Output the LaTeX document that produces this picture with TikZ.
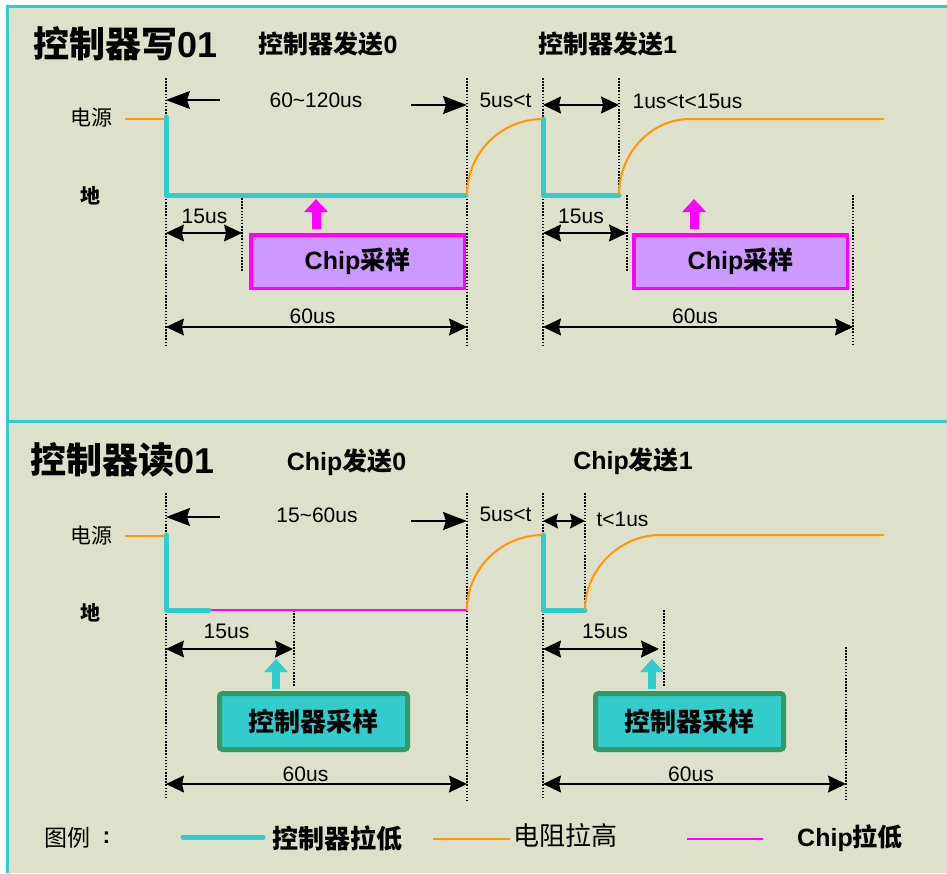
\documentclass[tikz,border=0pt]{standalone}
\usepackage{fontspec}
\setmainfont{Liberation Sans}
\newfontfamily\cjk{Noto Sans CJK SC}
\usetikzlibrary{arrows.meta}
\definecolor{bgc}{HTML}{DDE0CB}
\definecolor{sigcyan}{HTML}{33CCCC}
\definecolor{pullorange}{HTML}{FF9900}
\definecolor{chipmag}{HTML}{FF00FF}
\definecolor{chipfill}{HTML}{CC99FF}
\definecolor{boxgreen}{HTML}{339966}
\tikzset{
  sig/.style={line width=5pt, draw=sigcyan, line cap=round, line join=round},
  pull/.style={line width=2pt, draw=pullorange},
  chipl/.style={line width=2pt, draw=chipmag},
  guide/.style={line width=1.5pt, dash pattern=on 1.5pt off 1.6pt},
  dimboth/.style={line width=1.6pt, {Stealth[length=18pt,width=17pt,inset=2pt]}-{Stealth[length=18pt,width=17pt,inset=2pt]}},
  dimbig/.style={line width=1.6pt, -{Stealth[length=24pt,width=18pt,inset=3pt]}},
  dimsmall/.style={line width=1.6pt, {Stealth[length=15pt,width=15pt,inset=2pt]}-{Stealth[length=15pt,width=15pt,inset=2pt]}},
  lat/.style={anchor=base, inner sep=0pt, font=\fontsize{21}{24}\selectfont},
  cjkreg/.style={inner sep=0pt, font=\cjk\fontsize{21}{24}\selectfont},
  cjkbold/.style={inner sep=0pt, font=\cjk\bfseries\fontsize{20}{24}\selectfont},
  title/.style={anchor=base west, inner sep=0pt, font=\bfseries\fontsize{36}{40}\selectfont},
  subtitle/.style={anchor=base, inner sep=0pt, font=\bfseries\fontsize{25}{28}\selectfont},
  chipbox/.style={draw=chipmag, fill=chipfill, line width=3.5pt, minimum width=213.5pt, minimum height=53.5pt, inner sep=0pt, font=\bfseries\fontsize{25}{28}\selectfont},
  ctrlbox/.style={draw=boxgreen, fill=sigcyan, line width=5pt, rounded corners=3pt, minimum width=188pt, minimum height=56pt, inner sep=0pt, font=\cjk\bfseries\fontsize{26}{28}\selectfont},
  magup/.style={line width=9pt, draw=chipmag, -{Triangle[length=13pt,width=23pt]}},
  cyanup/.style={line width=8pt, draw=sigcyan, -{Triangle[length=13pt,width=23pt]}},
}
\begin{document}
\begin{tikzpicture}[x=1pt,y=-1pt]
\useasboundingbox (0,0) rectangle (947,873);
% panel background and frame
\fill[bgc] (6,5) rectangle (947,873);
\draw[sigcyan, line width=3pt] (6,6.5) -- (947,6.5);
\draw[sigcyan, line width=3pt] (7.5,5) -- (7.5,873);
\draw[sigcyan, line width=3pt] (6,421) -- (947,421);

% ================= TOP PANEL =================
\node[title] (t1) at (33,57) {{\cjk 控制器写}01};
\node[subtitle] (s10) at (328,53.5) {{\cjk 控制器发送}0};
\node[subtitle] (s11) at (607.5,53.5) {{\cjk 控制器发送}1};

% guide lines
\draw[guide] (166,78) -- (166,346);
\draw[guide] (467,78) -- (467,346);
\draw[guide] (242,195) -- (242,271);
\draw[guide] (543,78) -- (543,346);
\draw[guide] (619,78) -- (619,195);
\draw[guide] (627,195) -- (627,271);
\draw[guide] (853,195) -- (853,346);

% level labels
\node[cjkreg] (vcc1) at (91,118) {电源};
\node[cjkbold] (gnd1) at (90,196) {地};

% signals
\draw[pull] (125,119) -- (166,119);
\draw[sig] (166,117) -- (166,195) -- (466,195);
\draw[pull] (467,195) .. controls (467,153) and (501,119) .. (543,119);
\draw[sig] (543,119) -- (543,195) -- (619,195);
\draw[pull] (619,195) .. controls (619,153) and (651,119) .. (690,119) -- (884,119);

% dimensions
\coordinate (a1) at (220,100); \coordinate (a1e) at (166,100);
\coordinate (a2) at (411,105); \coordinate (a2e) at (467,105);
\draw[dimbig] (a1) -- (a1e);
\draw[dimbig] (a2) -- (a2e);
\node[lat] (d1) at (316,107) {60\textasciitilde120us};
\node[lat] (d2) at (505.5,107) {5us<t};
\coordinate (b1) at (543,105); \coordinate (b2) at (619,105);
\draw[dimboth] (b1) -- (b2);
\node[lat] (d3) at (687.5,108) {1us<t<15us};
\coordinate (c1) at (166,233); \coordinate (c2) at (242,233);
\draw[dimboth] (c1) -- (c2);
\node[lat] (d4) at (204.5,223) {15us};
\coordinate (c3) at (543,233); \coordinate (c4) at (627,233);
\draw[dimboth] (c3) -- (c4);
\node[lat] (d5) at (581,223) {15us};
\coordinate (e1) at (166,327); \coordinate (e2) at (467,327);
\draw[dimboth] (e1) -- (e2);
\node[lat] (d6) at (312.5,323) {60us};
\coordinate (e3) at (543,327); \coordinate (e4) at (853,327);
\draw[dimboth] (e3) -- (e4);
\node[lat] (d7) at (695,323) {60us};

% chip sample boxes
\node[chipbox] (cs1) at (357.5,261.5) {Chip{\cjk 采样}};
\node[chipbox] (cs2) at (740.5,261.5) {Chip{\cjk 采样}};
\draw[magup] (316,229) -- (316,199);
\draw[magup] (694,229) -- (694,199);

% ================= BOTTOM PANEL =================
\node[title] (t2) at (30,473) {{\cjk 控制器读}01};
\node[subtitle] (s20) at (346.5,470) {Chip{\cjk 发送}0};
\node[subtitle] (s21) at (633,469) {Chip{\cjk 发送}1};

% guide lines
\draw[guide] (166,493) -- (166,797);
\draw[guide] (467,493) -- (467,800);
\draw[guide] (294,610) -- (294,687);
\draw[guide] (543,493) -- (543,797);
\draw[guide] (585,493) -- (585,610);
\draw[guide] (664,610) -- (664,687);
\draw[guide] (846,647) -- (846,800);

% level labels
\node[cjkreg] (vcc2) at (91,536) {电源};
\node[cjkbold] (gnd2) at (90,613) {地};

% signals
\draw[pull] (125,536) -- (166,536);
\draw[chipl] (209,610) -- (467,610);
\draw[sig] (166,535) -- (166,610) -- (209,610);
\draw[pull] (467,610) .. controls (467,569) and (501,535) .. (543,535);
\draw[sig] (543,535) -- (543,610) -- (585,610);
\draw[pull] (585,610) .. controls (585,569) and (620,535) .. (660,535) -- (884,535);

% dimensions
\coordinate (f1) at (220,517); \coordinate (f1e) at (166,517);
\coordinate (f2) at (411,521); \coordinate (f2e) at (467,521);
\draw[dimbig] (f1) -- (f1e);
\draw[dimbig] (f2) -- (f2e);
\node[lat] (g1) at (317,522) {15\textasciitilde60us};
\node[lat] (g2) at (505.5,521.5) {5us<t};
\coordinate (h1) at (543,521); \coordinate (h2) at (585,521);
\draw[dimsmall] (h1) -- (h2);
\node[lat] (g3) at (622.5,526.5) {t<1us};
\coordinate (k1) at (166,649); \coordinate (k2) at (293,649);
\draw[dimboth] (k1) -- (k2);
\node[lat] (g4) at (226.5,638) {15us};
\coordinate (k3) at (543,649); \coordinate (k4) at (659,649);
\draw[dimboth] (k3) -- (k4);
\node[lat] (g5) at (605,638) {15us};
\coordinate (m1) at (166,784); \coordinate (m2) at (467,784);
\draw[dimboth] (m1) -- (m2);
\node[lat] (g6) at (305.5,781.5) {60us};
\coordinate (m3) at (543,784); \coordinate (m4) at (846,784);
\draw[dimboth] (m3) -- (m4);
\node[lat] (g7) at (691,781.5) {60us};

% controller sample boxes
\node[ctrlbox] (ms1) at (313.5,721.5) {控制器采样};
\node[ctrlbox] (ms2) at (689.5,721.5) {控制器采样};
\draw[cyanup] (276,689) -- (276,659);
\draw[cyanup] (652,689) -- (652,659);

% ================= LEGEND =================
\node[inner sep=0pt, font=\cjk\fontsize{23}{26}\selectfont] (lg) at (67,837.5) {图例};
\node[inner sep=0pt, font=\bfseries\fontsize{23}{26}\selectfont] (lgc) at (106.5,838) {:};
\coordinate (l1a) at (183,837); \coordinate (l1b) at (263,837);
\draw[sig] (l1a) -- (l1b);
\node[inner sep=0pt, font=\cjk\bfseries\fontsize{26}{28}\selectfont] (l1t) at (337.5,838) {控制器拉低};
\coordinate (l2a) at (433,839); \coordinate (l2b) at (510,839);
\draw[pull] (l2a) -- (l2b);
\node[inner sep=0pt, font=\cjk\fontsize{26}{28}\selectfont] (l2t) at (565,835.5) {电阻拉高};
\coordinate (l3a) at (687,839); \coordinate (l3b) at (763,839);
\draw[chipl] (l3a) -- (l3b);
\node[anchor=base, inner sep=0pt, font=\bfseries\fontsize{25}{28}\selectfont] (l3t) at (850,846) {Chip{\cjk 拉低}};
\end{tikzpicture}
\end{document}
